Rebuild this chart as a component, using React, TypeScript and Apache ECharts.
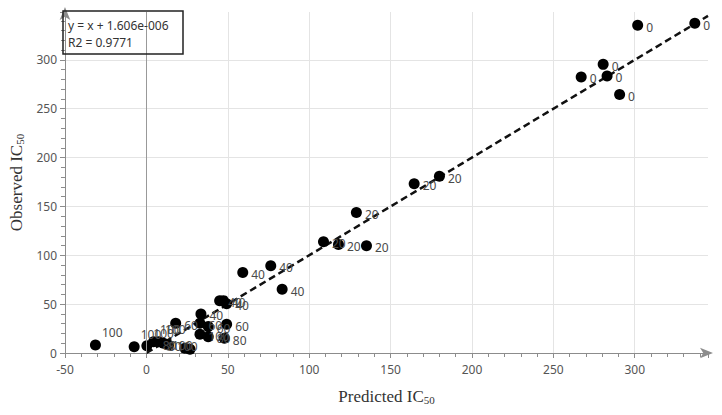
import React, { useEffect, useRef } from "react";
import * as echarts from "echarts";

// Predicted vs observed IC50 values, with the point annotation labels
const predicted = [
  301.8, 336.9, 280.6, 267.1, 283.0, 290.7,
  164.5, 180.0, 129.0, 108.8, 118.0, 135.2,
  59.2, 76.4, 83.4, 45.0, 47.3, 49.3, 33.5,
  18.0, 32.9, 38.0, 49.3,
  47.9, 38.0, 23.7, 26.8,
  -31.3, -7.5, 0.3, 4.4, 7.5, 10.5, 13.6, 32.9,
];
const observed = [
  335.5, 337.4, 295.4, 282.5, 283.6, 264.6,
  173.3, 180.8, 143.9, 113.8, 111.1, 109.7,
  82.4, 89.2, 65.3, 53.5, 53.6, 50.3, 40.0,
  30.5, 30.5, 27.0, 29.4,
  15.1, 16.7, 4.8, 3.8,
  8.2, 6.5, 7.5, 11.6, 11.6, 9.9, 8.2, 19.2,
];
const pointLabels = [
  "0", "0", "0", "0", "0", "0",
  "20", "20", "20", "20", "20", "20",
  "40", "40", "40", "40", "40", "40", "40",
  "60", "60", "60", "60",
  "80", "80", "80", "80",
  "100", "100", "100", "100", "100", "100", "100", "100",
];
// label placement: r = right, tr = upper right, l = left
const labelPlacement = [
  "r", "r", "r", "r", "r", "r",
  "r", "r", "r", "r", "r", "r",
  "r", "r", "r", "r", "r", "r", "r",
  "r", "r", "r", "r",
  "r", "r", "l", "l",
  "tr", "tr", "tr", "tr", "tr", "r", "r", "r",
];

// fitted trend line y = x + 1.606e-006
const trendX = [0, 345];
const trendY = [0.000001606, 345.000001606];

const xTicks = { min: -50, max: 345, interval: 50 };
const yTicks = { min: 0, max: 349, interval: 50 };

const fitText = ["y = x + 1.606e-006", "R2 = 0.9771"];

const AXIS_COLOR = "#8c8c8c";
const LABEL_FONT = "Noto Sans";
const POINT_LABEL_COLOR = "#4a4a4a";

export default function App() {
  const ref = useRef<HTMLDivElement>(null);

  useEffect(() => {
    if (!ref.current) return;
    const chart = echarts.init(ref.current, undefined, { renderer: "svg" });

    const labelBase = {
      show: true,
      formatter: "{b}",
      color: POINT_LABEL_COLOR,
      fontSize: 12,
      fontFamily: LABEL_FONT,
      textBorderWidth: 0,
    };
    const placement = (p: string) => {
      if (p === "tr") return { ...labelBase, position: "right", distance: 1, offset: [0, -12] };
      if (p === "l") return { ...labelBase, position: "left", distance: 3, offset: [0, -3] };
      return { ...labelBase, position: "right", distance: 3, offset: [0, 2] };
    };

    const scatterData = predicted.map((x, i) => ({
      name: pointLabels[i],
      value: [x, observed[i]],
      label: placement(labelPlacement[i]),
    }));

    const axisCommon = {
      type: "value",
      axisLine: {
        show: true,
        onZero: false,
        lineStyle: { color: AXIS_COLOR, width: 1 },
        symbol: ["none", "arrow"],
        symbolSize: [8, 13],
        symbolOffset: [0, 5],
      },
      axisTick: { show: true, length: 5, lineStyle: { color: AXIS_COLOR } },
      minorTick: { show: true, splitNumber: 5, length: 4, lineStyle: { color: AXIS_COLOR } },
      axisLabel: {
        color: "#555",
        fontSize: 12,
        fontFamily: LABEL_FONT,
        showMaxLabel: false,
      },
      splitLine: {
        show: true,
        showMinLine: false,
        showMaxLine: false,
        lineStyle: { color: "#e4e4e4", width: 1 },
      },
      nameLocation: "middle",
      nameTextStyle: {
        fontFamily: "Liberation Serif",
        fontSize: 17,
        color: "#333",
        rich: {
          s: { fontFamily: "Liberation Serif", fontSize: 11, color: "#333", padding: [7, 0, 0, 0] },
        },
      },
    };

    const option: any = {
      animation: false,
      grid: { left: 62, right: 14, top: 12, bottom: 62 },
      xAxis: {
        ...axisCommon,
        ...xTicks,
        name: "Predicted IC{s|50}",
        nameGap: 34,
        axisLabel: { ...axisCommon.axisLabel, margin: 10 },
      },
      yAxis: {
        ...axisCommon,
        ...yTicks,
        name: "Observed IC{s|50}",
        nameGap: 38,
        axisLabel: { ...axisCommon.axisLabel, margin: 8 },
      },
      series: [
        {
          type: "line",
          data: trendX.map((x, i) => [x, trendY[i]]),
          symbol: "none",
          lineStyle: { color: "#111", width: 2.5, type: [7, 4] },
          z: 3,
          silent: true,
          markLine: {
            silent: true,
            symbol: "none",
            label: { show: false },
            lineStyle: { color: "#999", type: "solid", width: 1 },
            data: [{ xAxis: 0 }],
          },
        },
        {
          type: "scatter",
          data: scatterData,
          symbol: "circle",
          symbolSize: 11,
          itemStyle: { color: "#000", opacity: 1 },
          emphasis: { disabled: true },
          z: 4,
          label: labelBase,
        },
      ],
      graphic: [
        {
          type: "rect",
          shape: { x: 63, y: 11, width: 120, height: 43 },
          style: { fill: "none", stroke: "#222", lineWidth: 1.5 },
          z: 10,
        },
        {
          type: "text",
          x: 68,
          y: 25,
          style: {
            text: fitText[0],
            fill: "#333",
            font: `12px "${LABEL_FONT}"`,
            verticalAlign: "middle",
          },
          z: 10,
        },
        {
          type: "text",
          x: 68,
          y: 42,
          style: {
            text: fitText[1],
            fill: "#333",
            font: `12px "${LABEL_FONT}"`,
            verticalAlign: "middle",
          },
          z: 10,
        },
      ],
    };

    chart.setOption(option);
    return () => chart.dispose();
  }, []);

  return (
    <div
      ref={ref}
      style={{ position: "fixed", left: 0, top: 0, width: 722, height: 415, background: "#fff" }}
    />
  );
}
